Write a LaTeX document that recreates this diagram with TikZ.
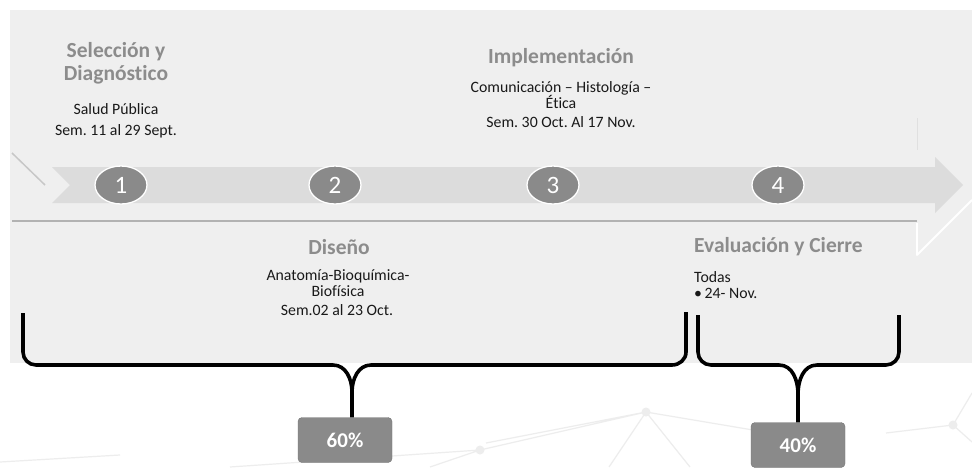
\documentclass[tikz,border=0pt]{standalone}
\usepackage{fontspec}
\setmainfont[Ligatures=NoCommon]{Carlito}
\usetikzlibrary{shapes.geometric, positioning, backgrounds}
\frenchspacing

\definecolor{panel}{HTML}{EFEFEF}
\definecolor{band}{HTML}{DCDCDC}
\definecolor{stepgray}{HTML}{8A8A8A}
\definecolor{titlegray}{HTML}{8C8C8C}
\definecolor{netgray}{HTML}{EDEDED}

\begin{document}
\begin{tikzpicture}[
            x=1pt, y=-1pt,
            line join=round,
            title/.style={text=titlegray, font=\fontsize{21.5}{23}\selectfont\bfseries, align=center, inner sep=0pt},
            detail/.style={text=black!90, font=\fontsize{15.8}{16.5}\selectfont, align=center, inner sep=0pt},
            brace/.style={draw=black, line width=3.6pt},
            percent/.style={fill=stepgray, draw=stepgray!85!black, rounded corners=4pt, text=white,
                font=\fontsize{21}{22}\selectfont\bfseries, minimum width=94pt, minimum height=45pt}
        ]

        \tikzstyle{every node}=[inner sep=0pt]
        \tikzstyle{stepnum}=[
            shape=ellipse,
            fill=stepgray,
            draw=white,
            line width=1.3pt,
            minimum width=52pt,
            minimum height=38pt,
            text=white,
            font=\fontsize{25}{25}\selectfont
        ]

        \useasboundingbox (0,0) rectangle (972,467);
        \fill[white] (0,0) rectangle (972,467);

        % faint network in the background
        \draw[netgray, line width=1.2pt] (230,467) -- (480,450) -- (646,412) -- (753,430)
            (486,443) -- (646,412) (480,450) -- (430,467) (646,412) -- (609,467) (646,412) -- (690,467)
            (886,433) -- (953,425) -- (972,393) (953,425) -- (972,442) (0,462) -- (120,455);
        \foreach \p in {(480,450), (646,412), (953,425)}
            \fill[netgray] \p circle (4.5);

        \fill[panel] (10,10) rectangle (972,363);

        % outline of the big arrow
        \draw[black!22, line width=1.5pt] (12,153) -- (45,185);
        \draw[black!12, line width=1pt] (917,118) -- (917,150);
        \draw[black!30, line width=2.5pt] (12,221) -- (917,221);
        \draw[white, line width=1.8pt] (917,223) -- (917,255) -- (972,200);

        % time band
        \fill[band] (52,167) -- (935,167) -- (935,157) -- (963,185) -- (935,213)
            -- (935,203) -- (52,203) -- (70,185) -- cycle;

        \node[stepnum] (s1) at (121,185) {1};
        \node[stepnum] (s2) at (335,185) {2};
        \node[stepnum] (s3) at (553,185) {3};
        \node[stepnum] (s4) at (778,185) {4};

        % phases above the band
        \node[title] (sel) at (116,63) {Selección y\\Diagnóstico};
        \node[detail, below=19pt of sel.south] (selA) {Salud Pública};
        \node[detail, below=10pt of selA.south] (selB) {Sem. 11 al 29 Sept.};

        \node[title] (imp) at (561,58) {Implementación};
        \node[detail] (impA) at (561,95) {Comunicación – Histología –\\Ética};
        \node[detail] (impB) at (561,122) {Sem. 30 Oct. Al 17 Nov.};

        % phases below the band
        \node[title] (dis) at (339,247) {Diseño};
        \node[detail] (disA) at (338,283) {Anatomía-Bioquímica-\\Biofísica};
        \node[detail] (disB) at (337,310) {Sem.02 al 23 Oct.};

        \node[title, anchor=west] (eva) at (694,247) {Evaluación y Cierre};
        \node[detail, anchor=west] (evaA) at (694,277) {Todas};
        \node[detail, anchor=west] (evaB) at (694,293) {\textbullet\,24- Nov.};

        % weights
        \node[percent] (p60) at (345,440) {60\%};
        \node[percent] (p40) at (798,445) {40\%};

        \coordinate (c60) at (352,392);
        \coordinate (c40) at (798,394);

        \draw[brace] (23,313) -- (23,352) to[out=-90,in=180] (36,365) -- (333,365)
            to[out=0,in=90] (c60) -- (c60 |- p60.north);
        \draw[brace] (c60) to[out=90,in=180] (371,365) -- (672,365)
            to[out=0,in=-90] (686,352) -- (686,312);

        \draw[brace] (698,315) -- (698,352) to[out=-90,in=180] (711,365) -- (779,365)
            to[out=0,in=90] (c40) -- (c40 |- p40.north);
        \draw[brace] (c40) to[out=90,in=180] (817,365) -- (886,365)
            to[out=0,in=-90] (899,352) -- (899,315);

    \end{tikzpicture}
\end{document}
